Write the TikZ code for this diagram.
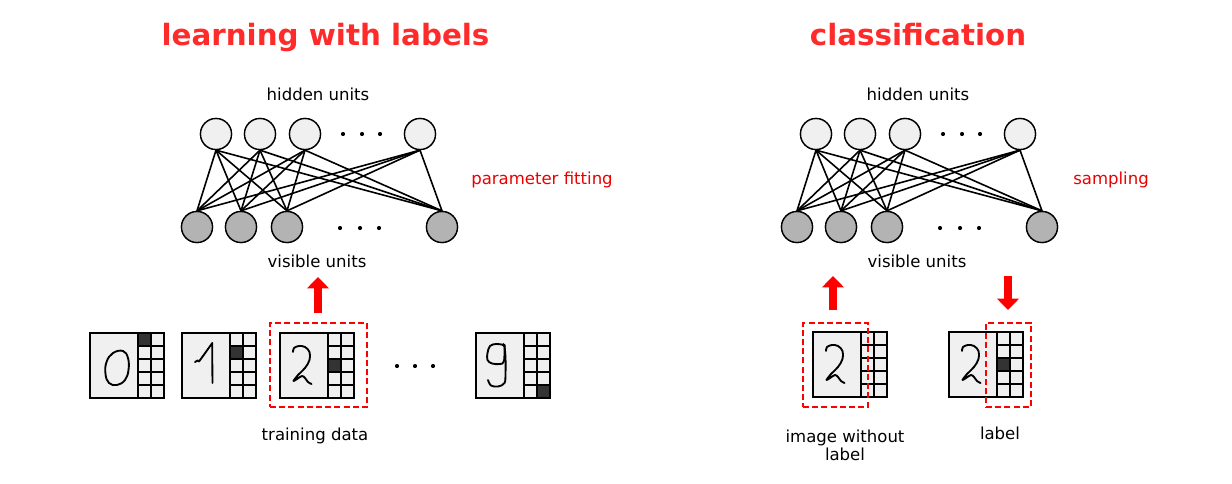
\documentclass[tikz,border=0pt]{standalone}
\usepackage{fontspec}
\setmainfont{DejaVu Sans}
\usetikzlibrary{arrows.meta}
\definecolor{titlered}{RGB}{255,42,42}
\definecolor{labred}{RGB}{235,0,0}
\definecolor{hidfill}{RGB}{240,240,240}
\definecolor{visfill}{RGB}{179,179,179}
\definecolor{imgfill}{RGB}{240,240,240}
\definecolor{cellblack}{RGB}{51,51,51}
\tikzset{
  hid/.style={circle,draw=black,line width=1pt,fill=hidfill,minimum size=31*0.75pt,inner sep=0pt},
  vis/.style={circle,draw=black,line width=1pt,fill=visfill,minimum size=31*0.75pt,inner sep=0pt},
  edge/.style={line width=1.2pt,black},
  dotmark/.style={circle,fill=black,minimum size=3.1pt,inner sep=0pt},
  titletext/.style={font=\fontsize{22}{26}\selectfont\bfseries,text=titlered,anchor=base},
  lab/.style={font=\fontsize{12.4}{13.5}\selectfont,anchor=base},
  redlab/.style={font=\fontsize{12.4}{13.5}\selectfont,anchor=base,text=labred},
  selbox/.style={draw=red,line width=1.3pt,dash pattern=on 4.5pt off 2.4pt},
  bigarrow/.style={draw=red,line width=6pt,-{Triangle[width=16pt,length=8.5pt]}},
  stroke/.style={line width=1.4pt,black,line join=round,line cap=round},
  pics/dbox/.style 2 args={code={
    \fill[imgfill] (0,0) rectangle (48,65);
    \foreach \c in {0,1}{\foreach \r in {0,...,4}{
      \fill[imgfill] (48+13*\c,13*\r) rectangle ++(13,13);}}
    \ifnum#1>0 \fill[cellblack] (48+13*#1-13,13*#2-13) rectangle ++(13,13);\fi
    \foreach \r in {1,...,4}{\draw[line width=1.4pt] (48,13*\r) -- (74,13*\r);}
    \draw[line width=1.4pt] (61,0) -- (61,65);
    \draw[line width=1.5pt] (0,0) rectangle (74,65);
    \draw[line width=1.4pt] (48,0) -- (48,65);
  }},
  pics/dzero/.style={code={
    \draw[stroke] plot[smooth cycle,tension=0.7] coordinates {(33,18) (38,25) (38.5,37) (35,47) (27,52) (19,50) (15.5,41) (16.5,29) (23,20)};
  }},
  pics/done/.style={code={
    \draw[stroke] (13,29) -- (15.5,27.5) -- (17,28.5) -- (21,23) -- (26,16) -- (30.3,10) -- (30.3,30) -- (30.5,50);
  }},
  pics/dtwo/.style={code={
    \draw[stroke] plot[smooth,tension=0.6] coordinates {(13,19) (14,15) (19,13) (25,14) (29.5,19) (29.5,27) (25,35) (18,42) (13.5,48) (17,46) (22,43) (25,45) (28,49) (31.5,51)};
  }},
  pics/dnine/.style={code={
    \draw[stroke] plot[smooth,tension=0.6] coordinates {(28.5,12) (20,11) (14,13) (11.5,20) (11.5,27) (16,30.5) (24,31) (28,28) (28.5,12)};
    \draw[stroke] plot[smooth,tension=0.6] coordinates {(28.5,12) (29.5,25) (29.5,40) (28.5,50) (22,53.5) (15,52.5) (12,47)};
    \fill (27.5,12) circle (1.8);
  }}
}
\begin{document}
\begin{tikzpicture}[x=0.75pt,y=-0.75pt]
\useasboundingbox (0,0) rectangle (1232,483);
% titles
\node[titletext] (t1) at (325.5,45) {learning with labels};
\node[titletext] (t2) at (918,45) {classification};
% left network
\foreach \n/\x in {1/216,2/260,3/305,4/420}{\node[hid] (lh\n) at (\x,134) {};}
\foreach \n/\x in {1/197,2/241,3/287,4/442}{\node[vis] (lv\n) at (\x,227) {};}
\foreach \n/\x in {1/343,2/362,3/380}{\node[dotmark] (lhd\n) at (\x,134) {};}
\foreach \n/\x in {1/340,2/360,3/379}{\node[dotmark] (lvd\n) at (\x,228) {};}
\foreach \i in {1,...,4}{\foreach \j in {1,...,4}{\draw[edge] (lh\i.south) -- (lv\j.north);}}
\foreach \i in {1,...,4}{\node[hid] at (lh\i) {};}
\foreach \j in {1,...,4}{\node[vis] at (lv\j) {};}
% right network
\foreach \n/\x in {1/816,2/860,3/905,4/1020}{\node[hid] (rh\n) at (\x,134) {};}
\foreach \n/\x in {1/797,2/841,3/887,4/1042}{\node[vis] (rv\n) at (\x,227) {};}
\foreach \n/\x in {1/943,2/962,3/980}{\node[dotmark] (rhd\n) at (\x,134) {};}
\foreach \n/\x in {1/940,2/960,3/979}{\node[dotmark] (rvd\n) at (\x,228) {};}
\foreach \i in {1,...,4}{\foreach \j in {1,...,4}{\draw[edge] (rh\i.south) -- (rv\j.north);}}
\foreach \i in {1,...,4}{\node[hid] at (rh\i) {};}
\foreach \j in {1,...,4}{\node[vis] at (rv\j) {};}
% labels
\node[lab] (lhu) at (318,100) {hidden units};
\node[lab] (lvu) at (317,267) {visible units};
\node[lab] (rhu) at (918,100) {hidden units};
\node[lab] (rvu) at (917,267) {visible units};
\node[redlab] (pf) at (542,184) {parameter fitting};
\node[redlab] (sa) at (1111,184) {sampling};
% left digit boxes
\pic (b0) at (90,333) {dbox={1}{1}};
\pic at (90,333) {dzero};
\pic (b1) at (182,333) {dbox={1}{2}};
\pic at (182,333) {done};
\pic (b2) at (280,333) {dbox={1}{3}};
\pic at (280,333) {dtwo};
\pic (b9) at (476,333) {dbox={2}{5}};
\pic at (476,333) {dnine};
\foreach \n/\x in {1/397,2/415,3/433}{\node[dotmark] (bd\n) at (\x,366) {};}
\node[selbox,inner sep=0pt,minimum width=97*0.75pt,minimum height=84*0.75pt] (sel) at (318.5,365) {};
\node[lab] (td) at (315,440) {training data};
% right digit boxes
\pic (r1) at (813,332) {dbox={0}{0}};
\pic at (813,332) {dtwo};
\pic (r2) at (949,332) {dbox={1}{3}};
\pic at (949,332) {dtwo};
\node[selbox,inner sep=0pt,minimum width=65*0.75pt,minimum height=84*0.75pt] (sel1) at (835.5,365) {};
\node[selbox,inner sep=0pt,minimum width=45*0.75pt,minimum height=84*0.75pt] (sel2) at (1008.5,365) {};
\node[lab,align=center,anchor=north] (iwl) at (845,425) {image without\\label};
\node[lab] (lb) at (1000,439) {label};
% arrows
\coordinate (a1s) at (318,313);
\coordinate (a1e) at (318,277);
\coordinate (a2s) at (833,310);
\coordinate (a2e) at (833,276);
\coordinate (a3s) at (1008,276);
\coordinate (a3e) at (1008,310);
\draw[bigarrow] (a1s) -- (a1e);
\draw[bigarrow] (a2s) -- (a2e);
\draw[bigarrow] (a3s) -- (a3e);
\end{tikzpicture}
\end{document}
